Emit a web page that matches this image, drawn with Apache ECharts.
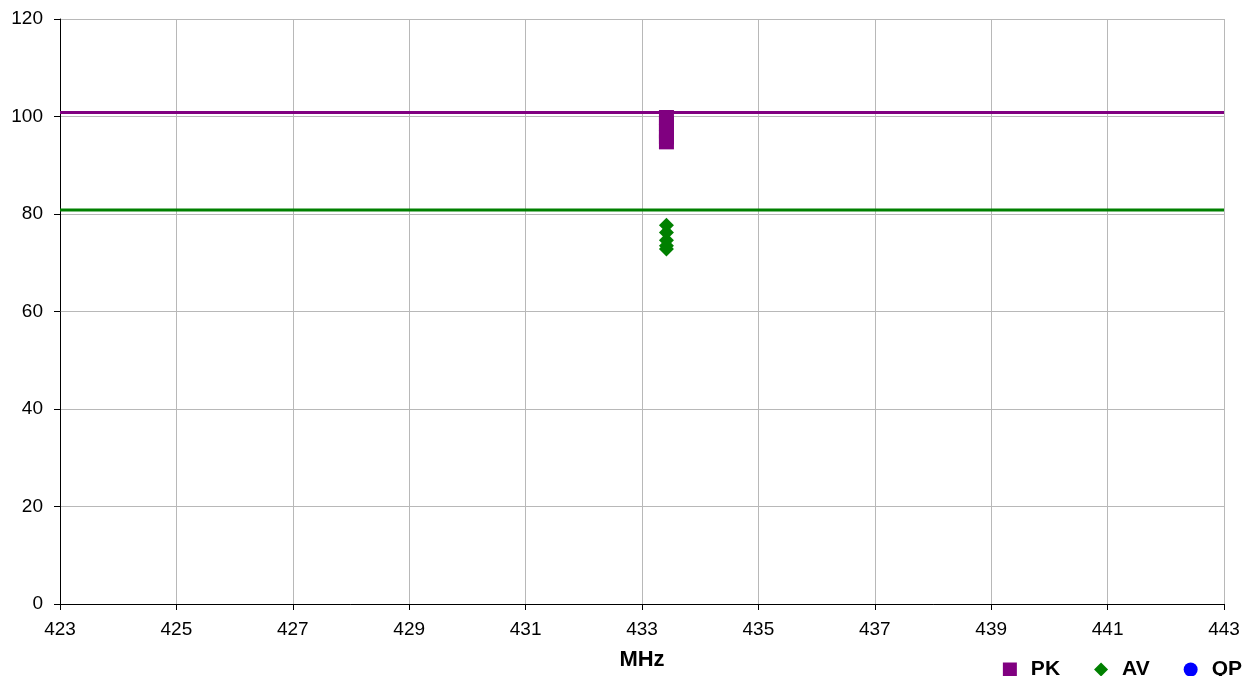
<!DOCTYPE html>
<html>
<head>
<meta charset="utf-8">
<script src="https://cdn.jsdelivr.net/npm/echarts@6/dist/echarts.min.js"></script>
<style>html,body{margin:0;padding:0;background:#fff}#c{width:1243px;height:676px}</style>
</head>
<body>
<div id="c"></div>
<script>
const xMin = 423, xMax = 443, xStep = 2;
const yMin = 0, yMax = 120, yStep = 20;
const pkLimit = 100.8;
const avLimit = 80.8;
const pkFreq = [433.42, 433.42, 433.42, 433.42, 433.42];
const pkValues = [99.8, 98.5, 97.0, 95.8, 94.8];
const avFreq = [433.42, 433.42, 433.42, 433.42, 433.42];
const avValues = [77.7, 76.2, 74.6, 73.5, 72.8];
const qpFreq = [];
const qpValues = [];
const xLabel = 'MHz';

const chart = echarts.init(document.getElementById('c'));
const font = 'Liberation Sans, Arial, sans-serif';
chart.setOption({
  animation: false,
  grid: {left: 60, right: 19, top: 19, bottom: 70},
  xAxis: {
    type: 'value', min: xMin, max: xMax, interval: xStep,
    name: xLabel, nameLocation: 'middle', nameGap: 45,
    nameTextStyle: {fontFamily: font, fontSize: 22, fontWeight: 'bold', color: '#000'},
    axisLine: {lineStyle: {color: '#000', width: 1}},
    axisTick: {show: true, length: 6, lineStyle: {color: '#000'}},
    axisLabel: {fontFamily: font, fontSize: 19, color: '#000', margin: 16},
    splitLine: {show: true, lineStyle: {color: '#b8b8b8', width: 1}}
  },
  yAxis: {
    type: 'value', min: yMin, max: yMax, interval: yStep,
    axisLine: {show: true, lineStyle: {color: '#000', width: 1}},
    axisTick: {show: true, length: 6, lineStyle: {color: '#000'}},
    axisLabel: {fontFamily: font, fontSize: 19, color: '#000', margin: 17},
    splitLine: {show: true, lineStyle: {color: '#b8b8b8', width: 1}}
  },
  legend: {
    data: ['PK', 'AV', 'QP'],
    right: 1, bottom: -4, padding: 0,
    itemWidth: 14, itemHeight: 14, itemGap: 34,
    textStyle: {fontFamily: font, fontSize: 21, fontWeight: 'bold', color: '#000', padding: [0, 0, 0, 9]}
  },
  series: [
    {name: 'PKLimit', type: 'line', data: [[xMin, pkLimit], [xMax, pkLimit]], symbol: 'none',
     lineStyle: {color: '#800080', width: 3}, z: 3, silent: true},
    {name: 'AVLimit', type: 'line', data: [[xMin, avLimit], [xMax, avLimit]], symbol: 'none',
     lineStyle: {color: '#008000', width: 3}, z: 3, silent: true},
    {name: 'PK', type: 'scatter', symbol: 'rect', symbolSize: 15,
     itemStyle: {color: '#800080', opacity: 1}, data: pkFreq.map((f, i) => [f, pkValues[i]]), z: 4},
    {name: 'AV', type: 'scatter', symbol: 'diamond', symbolSize: 15,
     itemStyle: {color: '#008000', opacity: 1}, data: avFreq.map((f, i) => [f, avValues[i]]), z: 4},
    {name: 'QP', type: 'scatter', symbol: 'circle', symbolSize: 15,
     itemStyle: {color: '#0000ff', opacity: 1}, data: qpFreq.map((f, i) => [f, qpValues[i]]), z: 4}
  ]
});
</script>
</body>
</html>
